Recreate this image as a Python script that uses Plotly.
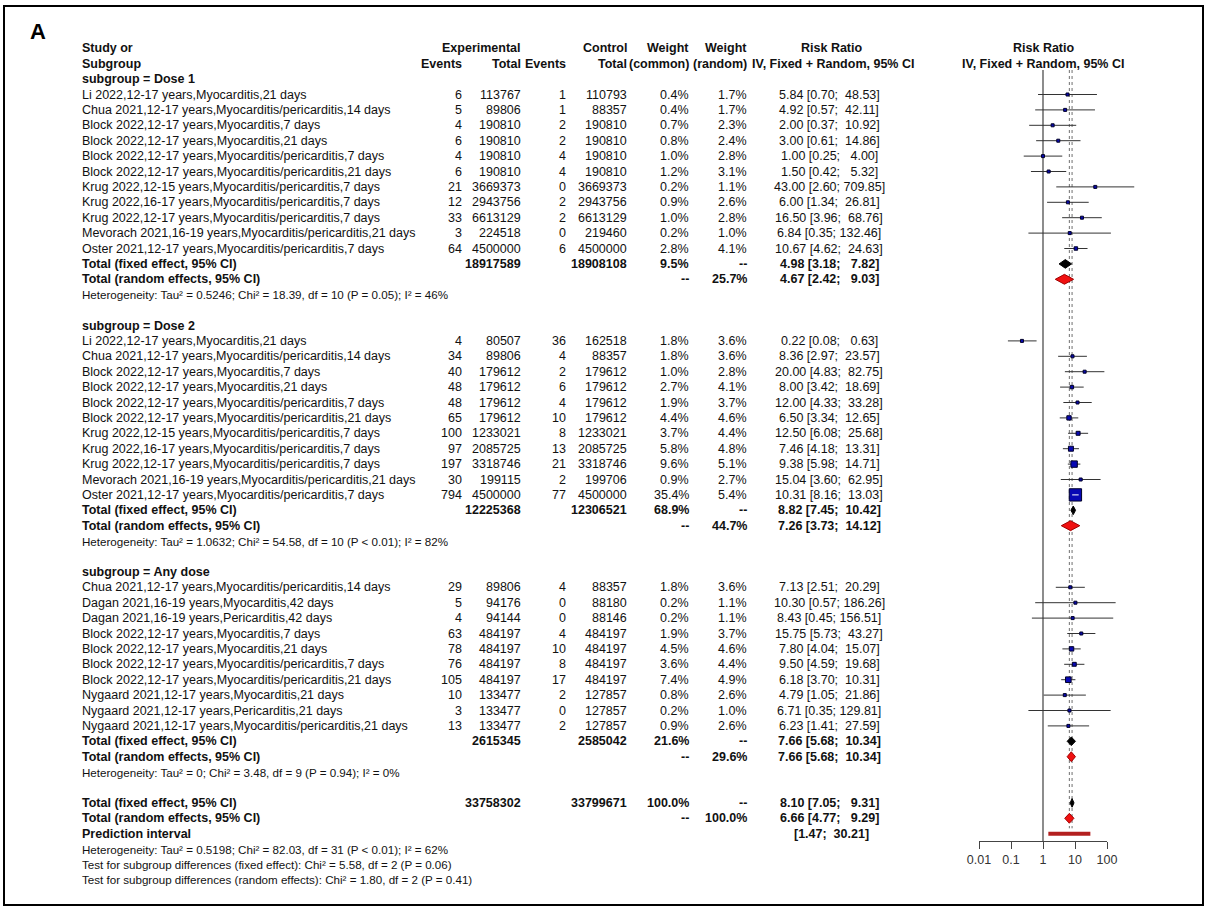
import math
import plotly.graph_objects as go

W, H = 1207, 910
FONT = "Liberation Sans, Arial, Helvetica, sans-serif"

# ---------------- data ----------------
subgroups = ["Dose 1", "Dose 2", "Any dose"]

study_group = [0] * 11 + [1] * 11 + [2] * 10

study_label = [
    "Li 2022,12-17 years,Myocarditis,21 days",
    "Chua 2021,12-17 years,Myocarditis/pericarditis,14 days",
    "Block 2022,12-17 years,Myocarditis,7 days",
    "Block 2022,12-17 years,Myocarditis,21 days",
    "Block 2022,12-17 years,Myocarditis/pericarditis,7 days",
    "Block 2022,12-17 years,Myocarditis/pericarditis,21 days",
    "Krug 2022,12-15 years,Myocarditis/pericarditis,7 days",
    "Krug 2022,16-17 years,Myocarditis/pericarditis,7 days",
    "Krug 2022,12-17 years,Myocarditis/pericarditis,7 days",
    "Mevorach 2021,16-19 years,Myocarditis/pericarditis,21 days",
    "Oster 2021,12-17 years,Myocarditis/pericarditis,7 days",
    "Li 2022,12-17 years,Myocarditis,21 days",
    "Chua 2021,12-17 years,Myocarditis/pericarditis,14 days",
    "Block 2022,12-17 years,Myocarditis,7 days",
    "Block 2022,12-17 years,Myocarditis,21 days",
    "Block 2022,12-17 years,Myocarditis/pericarditis,7 days",
    "Block 2022,12-17 years,Myocarditis/pericarditis,21 days",
    "Krug 2022,12-15 years,Myocarditis/pericarditis,7 days",
    "Krug 2022,16-17 years,Myocarditis/pericarditis,7 days",
    "Krug 2022,12-17 years,Myocarditis/pericarditis,7 days",
    "Mevorach 2021,16-19 years,Myocarditis/pericarditis,21 days",
    "Oster 2021,12-17 years,Myocarditis/pericarditis,7 days",
    "Chua 2021,12-17 years,Myocarditis/pericarditis,14 days",
    "Dagan 2021,16-19 years,Myocarditis,42 days",
    "Dagan 2021,16-19 years,Pericarditis,42 days",
    "Block 2022,12-17 years,Myocarditis,7 days",
    "Block 2022,12-17 years,Myocarditis,21 days",
    "Block 2022,12-17 years,Myocarditis/pericarditis,7 days",
    "Block 2022,12-17 years,Myocarditis/pericarditis,21 days",
    "Nygaard 2021,12-17 years,Myocarditis,21 days",
    "Nygaard 2021,12-17 years,Pericarditis,21 days",
    "Nygaard 2021,12-17 years,Myocarditis/pericarditis,21 days",
]

events_exp = [6, 5, 4, 6, 4, 6, 21, 12, 33, 3, 64,
              4, 34, 40, 48, 48, 65, 100, 97, 197, 30, 794,
              29, 5, 4, 63, 78, 76, 105, 10, 3, 13]
total_exp = [113767, 89806, 190810, 190810, 190810, 190810, 3669373, 2943756, 6613129, 224518, 4500000,
             80507, 89806, 179612, 179612, 179612, 179612, 1233021, 2085725, 3318746, 199115, 4500000,
             89806, 94176, 94144, 484197, 484197, 484197, 484197, 133477, 133477, 133477]
events_ctl = [1, 1, 2, 2, 4, 4, 0, 2, 2, 0, 6,
              36, 4, 2, 6, 4, 10, 8, 13, 21, 2, 77,
              4, 0, 0, 4, 10, 8, 17, 2, 0, 2]
total_ctl = [110793, 88357, 190810, 190810, 190810, 190810, 3669373, 2943756, 6613129, 219460, 4500000,
             162518, 88357, 179612, 179612, 179612, 179612, 1233021, 2085725, 3318746, 199706, 4500000,
             88357, 88180, 88146, 484197, 484197, 484197, 484197, 127857, 127857, 127857]
weight_common = [0.4, 0.4, 0.7, 0.8, 1.0, 1.2, 0.2, 0.9, 1.0, 0.2, 2.8,
                 1.8, 1.8, 1.0, 2.7, 1.9, 4.4, 3.7, 5.8, 9.6, 0.9, 35.4,
                 1.8, 0.2, 0.2, 1.9, 4.5, 3.6, 7.4, 0.8, 0.2, 0.9]
weight_random = [1.7, 1.7, 2.3, 2.4, 2.8, 3.1, 1.1, 2.6, 2.8, 1.0, 4.1,
                 3.6, 3.6, 2.8, 4.1, 3.7, 4.6, 4.4, 4.8, 5.1, 2.7, 5.4,
                 3.6, 1.1, 1.1, 3.7, 4.6, 4.4, 4.9, 2.6, 1.0, 2.6]
rr = [5.84, 4.92, 2.00, 3.00, 1.00, 1.50, 43.00, 6.00, 16.50, 6.84, 10.67,
      0.22, 8.36, 20.00, 8.00, 12.00, 6.50, 12.50, 7.46, 9.38, 15.04, 10.31,
      7.13, 10.30, 8.43, 15.75, 7.80, 9.50, 6.18, 4.79, 6.71, 6.23]
rr_lower = [0.70, 0.57, 0.37, 0.61, 0.25, 0.42, 2.60, 1.34, 3.96, 0.35, 4.62,
            0.08, 2.97, 4.83, 3.42, 4.33, 3.34, 6.08, 4.18, 5.98, 3.60, 8.16,
            2.51, 0.57, 0.45, 5.73, 4.04, 4.59, 3.70, 1.05, 0.35, 1.41]
rr_upper = [48.53, 42.11, 10.92, 14.86, 4.00, 5.32, 709.85, 26.81, 68.76, 132.46, 24.63,
            0.63, 23.57, 82.75, 18.69, 33.28, 12.65, 25.68, 13.31, 14.71, 62.95, 13.03,
            20.29, 186.26, 156.51, 43.27, 15.07, 19.68, 10.31, 21.86, 129.81, 27.59]

# subgroup summaries
sub_total_exp = [18917589, 12225368, 2615345]
sub_total_ctl = [18908108, 12306521, 2585042]
sub_weight_common = [9.5, 68.9, 21.6]
sub_weight_random = [25.7, 44.7, 29.6]
sub_fixed = [4.98, 8.82, 7.66]
sub_fixed_lower = [3.18, 7.45, 5.68]
sub_fixed_upper = [7.82, 10.42, 10.34]
sub_random = [4.67, 7.26, 7.66]
sub_random_lower = [2.42, 3.73, 5.68]
sub_random_upper = [9.03, 14.12, 10.34]
sub_heterogeneity = [
    "Tau² = 0.5246; Chi² = 18.39, df = 10 (P = 0.05); I² = 46%",
    "Tau² = 1.0632; Chi² = 54.58, df = 10 (P &lt; 0.01); I² = 82%",
    "Tau² = 0; Chi² = 3.48, df = 9 (P = 0.94); I² = 0%",
]

# overall summaries
all_total_exp = 33758302
all_total_ctl = 33799671
all_fixed, all_fixed_lower, all_fixed_upper = 8.10, 7.05, 9.31
all_random, all_random_lower, all_random_upper = 6.66, 4.77, 9.29
pred_lower, pred_upper = 1.47, 30.21
all_heterogeneity = "Tau² = 0.5198; Chi² = 82.03, df = 31 (P &lt; 0.01); I² = 62%"
test_fixed = "Chi² = 5.58, df = 2 (P = 0.06)"
test_random = "Chi² = 1.80, df = 2 (P = 0.41)"

axis_ticks = [0.01, 0.1, 1, 10, 100]
axis_ticktext = ["0.01", "0.1", "1", "10", "100"]

# ---------------- layout geometry ----------------
ROW0_PX = 94.5      # pixel centre of first study row
ROW_PX = 15.4       # pixel height of one table row
DECADE_PX = 32.0    # forest x scale: pixels per decade
ONE_PX = 1043.0     # pixel position of RR = 1
FS = 12.5           # table font size
FS_SMALL = 11.6     # footnote font size


def row_of(py):
    return (py - ROW0_PX) / ROW_PX


COL_STUDY = 81
COL_EV_E = 463
COL_N_E = 522
COL_EV_C = 567
COL_N_C = 628
COL_W_C = 690
COL_W_R = 748
COL_RR = 829
COL_FOREST = 1043

annotations = []


def add_text(x_px, row, text, anchor="left", bold=False, size=FS, color="#111111"):
    if bold:
        text = "<b>%s</b>" % text
    annotations.append(dict(
        x=x_px / W, xref="paper", y=row, yref="y", text=text, showarrow=False,
        xanchor=anchor, yanchor="middle", borderpad=0,
        font=dict(family=FONT, size=size, color=color)))


def ci_text(est, lo, hi):
    return "%.2f [%.2f; %6.2f]" % (est, lo, hi)


def pct(w):
    return "%.1f%%" % w


# headers
add_text(COL_STUDY, -3, "Study or", bold=True)
add_text(COL_STUDY, -2, "Subgroup", bold=True)
add_text(COL_N_E, -3, "Experimental", "right", bold=True)
add_text(COL_N_C, -3, "Control", "right", bold=True)
add_text(COL_W_C, -3, "Weight", "right", bold=True)
add_text(COL_W_R, -3, "Weight", "right", bold=True)
add_text(COL_RR + 2, -3, "Risk Ratio", "center", bold=True)
add_text(COL_FOREST, -3, "Risk Ratio", "center", bold=True)
add_text(COL_EV_E, -2, "Events", "right", bold=True)
add_text(COL_N_E, -2, "Total", "right", bold=True)
add_text(COL_EV_C, -2, "Events", "right", bold=True)
add_text(COL_N_C, -2, "Total", "right", bold=True)
add_text(COL_W_C, -2, "(common)", "right", bold=True)
add_text(COL_W_R, -2, "(random)", "right", bold=True)
add_text(COL_RR + 4, -2, "IV, Fixed + Random, 95% CI", "center", bold=True)
add_text(COL_FOREST, -2, "IV, Fixed + Random, 95% CI", "center", bold=True)

# rows
study_rows = []
fixed_rows, random_rows = [], []
r = -1
for g, name in enumerate(subgroups):
    add_text(COL_STUDY, r, "subgroup = %s" % name, bold=True)
    r += 1
    for i in range(len(study_label)):
        if study_group[i] != g:
            continue
        study_rows.append(r)
        add_text(COL_STUDY, r, study_label[i])
        add_text(COL_EV_E, r, str(events_exp[i]), "right")
        add_text(COL_N_E, r, str(total_exp[i]), "right")
        add_text(COL_EV_C, r, str(events_ctl[i]), "right")
        add_text(COL_N_C, r, str(total_ctl[i]), "right")
        add_text(COL_W_C, r, pct(weight_common[i]), "right")
        add_text(COL_W_R, r, pct(weight_random[i]), "right")
        add_text(COL_RR, r, ci_text(rr[i], rr_lower[i], rr_upper[i]), "center")
        r += 1
    fixed_rows.append(r)
    add_text(COL_STUDY, r, "Total (fixed effect, 95% CI)", bold=True)
    add_text(COL_N_E, r, str(sub_total_exp[g]), "right", bold=True)
    add_text(COL_N_C, r, str(sub_total_ctl[g]), "right", bold=True)
    add_text(COL_W_C, r, pct(sub_weight_common[g]), "right", bold=True)
    add_text(COL_W_R, r, "--", "right", bold=True)
    add_text(COL_RR, r, ci_text(sub_fixed[g], sub_fixed_lower[g], sub_fixed_upper[g]), "center", bold=True)
    r += 1
    random_rows.append(r)
    add_text(COL_STUDY, r, "Total (random effects, 95% CI)", bold=True)
    add_text(COL_W_C, r, "--", "right", bold=True)
    add_text(COL_W_R, r, pct(sub_weight_random[g]), "right", bold=True)
    add_text(COL_RR, r, ci_text(sub_random[g], sub_random_lower[g], sub_random_upper[g]), "center", bold=True)
    r += 1
    add_text(COL_STUDY, r, "Heterogeneity: " + sub_heterogeneity[g], size=FS_SMALL)
    r += 2

row_all_fixed, row_all_random, row_pred = r, r + 1, r + 2
add_text(COL_STUDY, row_all_fixed, "Total (fixed effect, 95% CI)", bold=True)
add_text(COL_N_E, row_all_fixed, str(all_total_exp), "right", bold=True)
add_text(COL_N_C, row_all_fixed, str(all_total_ctl), "right", bold=True)
add_text(COL_W_C, row_all_fixed, "100.0%", "right", bold=True)
add_text(COL_W_R, row_all_fixed, "--", "right", bold=True)
add_text(COL_RR, row_all_fixed, ci_text(all_fixed, all_fixed_lower, all_fixed_upper), "center", bold=True)
add_text(COL_STUDY, row_all_random, "Total (random effects, 95% CI)", bold=True)
add_text(COL_W_C, row_all_random, "--", "right", bold=True)
add_text(COL_W_R, row_all_random, "100.0%", "right", bold=True)
add_text(COL_RR, row_all_random, ci_text(all_random, all_random_lower, all_random_upper), "center", bold=True)
add_text(COL_STUDY, row_pred, "Prediction interval", bold=True)
add_text(COL_RR + 2, row_pred, "[%.2f; %6.2f]" % (pred_lower, pred_upper), "center", bold=True)
add_text(COL_STUDY, row_pred + 1, "Heterogeneity: " + all_heterogeneity, size=FS_SMALL)
add_text(COL_STUDY, row_pred + 2, "Test for subgroup differences (fixed effect): " + test_fixed, size=FS_SMALL)
add_text(COL_STUDY, row_pred + 3, "Test for subgroup differences (random effects): " + test_random, size=FS_SMALL)

# panel letter
annotations.append(dict(x=37.5 / W, xref="paper", y=1 - 32 / H, yref="paper", text="<b>A</b>",
                        showarrow=False, xanchor="center", yanchor="middle",
                        font=dict(family=FONT, size=22, color="black")))

# ---------------- forest plot ----------------
fig = go.Figure()

line_top = row_of(70)
axis_row = row_of(841)

# reference lines
fig.add_trace(go.Scatter(x=[1, 1], y=[line_top, axis_row], mode="lines",
                         line=dict(color="#808080", width=1.8), hoverinfo="skip"))
for v in (all_fixed, all_random):
    fig.add_trace(go.Scatter(x=[v, v], y=[line_top, row_pred - 0.35], mode="lines",
                             line=dict(color="#6f6f6f", width=1, dash="dot"), hoverinfo="skip"))

# confidence intervals
ci_x, ci_y = [], []
for i, rw in enumerate(study_rows):
    ci_x += [rr_lower[i], rr_upper[i], None]
    ci_y += [rw, rw, None]
fig.add_trace(go.Scatter(x=ci_x, y=ci_y, mode="lines", line=dict(color="#333333", width=1),
                         hoverinfo="skip", connectgaps=False))

# weighted squares (side proportional to sqrt of common-effect weight)
sizes = [max(3.0, 2.07 * math.sqrt(w)) for w in weight_common]
fig.add_trace(go.Scatter(x=rr, y=study_rows, mode="markers",
                         marker=dict(symbol="square", size=sizes, color="#0808b4", opacity=1,
                                     line=dict(color="#000028", width=1)),
                         hoverinfo="skip"))

# CI drawn in white where it lies inside its square
wx, wy = [], []
for i, rw in enumerate(study_rows):
    ci_px = DECADE_PX * (math.log10(rr_upper[i]) - math.log10(rr_lower[i]))
    if ci_px < sizes[i] - 2:
        wx += [rr_lower[i], rr_upper[i], None]
        wy += [rw, rw, None]
if wx:
    fig.add_trace(go.Scatter(x=wx, y=wy, mode="lines", line=dict(color="white", width=1),
                             hoverinfo="skip"))


def diamond(est, lo, hi, rw, fill, edge, half=0.28):
    fig.add_trace(go.Scatter(x=[lo, est, hi, est, lo], y=[rw, rw - half, rw, rw + half, rw],
                             mode="lines", fill="toself", fillcolor=fill,
                             line=dict(color=edge, width=1), hoverinfo="skip"))


for g in range(len(subgroups)):
    diamond(sub_fixed[g], sub_fixed_lower[g], sub_fixed_upper[g], fixed_rows[g], "black", "black")
    diamond(sub_random[g], sub_random_lower[g], sub_random_upper[g], random_rows[g], "#f01010", "#a00000", 0.32)
diamond(all_fixed, all_fixed_lower, all_fixed_upper, row_all_fixed, "black", "black")
diamond(all_random, all_random_lower, all_random_upper, row_all_random, "#f01010", "#a00000", 0.32)

# prediction interval bar
fig.add_trace(go.Scatter(x=[pred_lower, pred_upper], y=[row_pred, row_pred], mode="lines",
                         line=dict(color="#b3201f", width=4), hoverinfo="skip"))

# invisible anchor trace for the visible RR axis
fig.add_trace(go.Scatter(x=[1], y=[axis_row], mode="markers", marker=dict(opacity=0),
                         xaxis="x2", yaxis="y", hoverinfo="skip"))

x_lo, x_hi = -3.0, 3.3
fig.update_layout(
    width=W, height=H, autosize=False,
    margin=dict(l=0, r=0, t=0, b=0, pad=0, autoexpand=False),
    paper_bgcolor="white", plot_bgcolor="rgba(0,0,0,0)",
    showlegend=False,
    xaxis=dict(type="log", range=[x_lo, x_hi],
               domain=[(ONE_PX + DECADE_PX * x_lo) / W, (ONE_PX + DECADE_PX * x_hi) / W],
               visible=False, fixedrange=True),
    xaxis2=dict(type="log", range=[-2, 2],
                domain=[(ONE_PX - 2 * DECADE_PX) / W, (ONE_PX + 2 * DECADE_PX) / W],
                anchor="free", position=1 - 841 / H,
                showline=True, linecolor="#444444", linewidth=1,
                ticks="outside", ticklen=7, tickcolor="#444444", tickwidth=1,
                tickvals=axis_ticks, ticktext=axis_ticktext,
                tickfont=dict(family=FONT, size=12.5, color="#333333"),
                showgrid=False, zeroline=False, fixedrange=True),
    yaxis=dict(range=[row_of(H), row_of(0)], domain=[0, 1], visible=False, fixedrange=True),
    annotations=annotations,
    shapes=[dict(type="rect", xref="paper", yref="paper",
                 x0=4 / W, x1=1203 / W, y0=1 - 905 / H, y1=1 - 6 / H,
                 line=dict(color="black", width=2))],
)

fig.write_html("out.html", config={"responsive": False, "displayModeBar": False})
